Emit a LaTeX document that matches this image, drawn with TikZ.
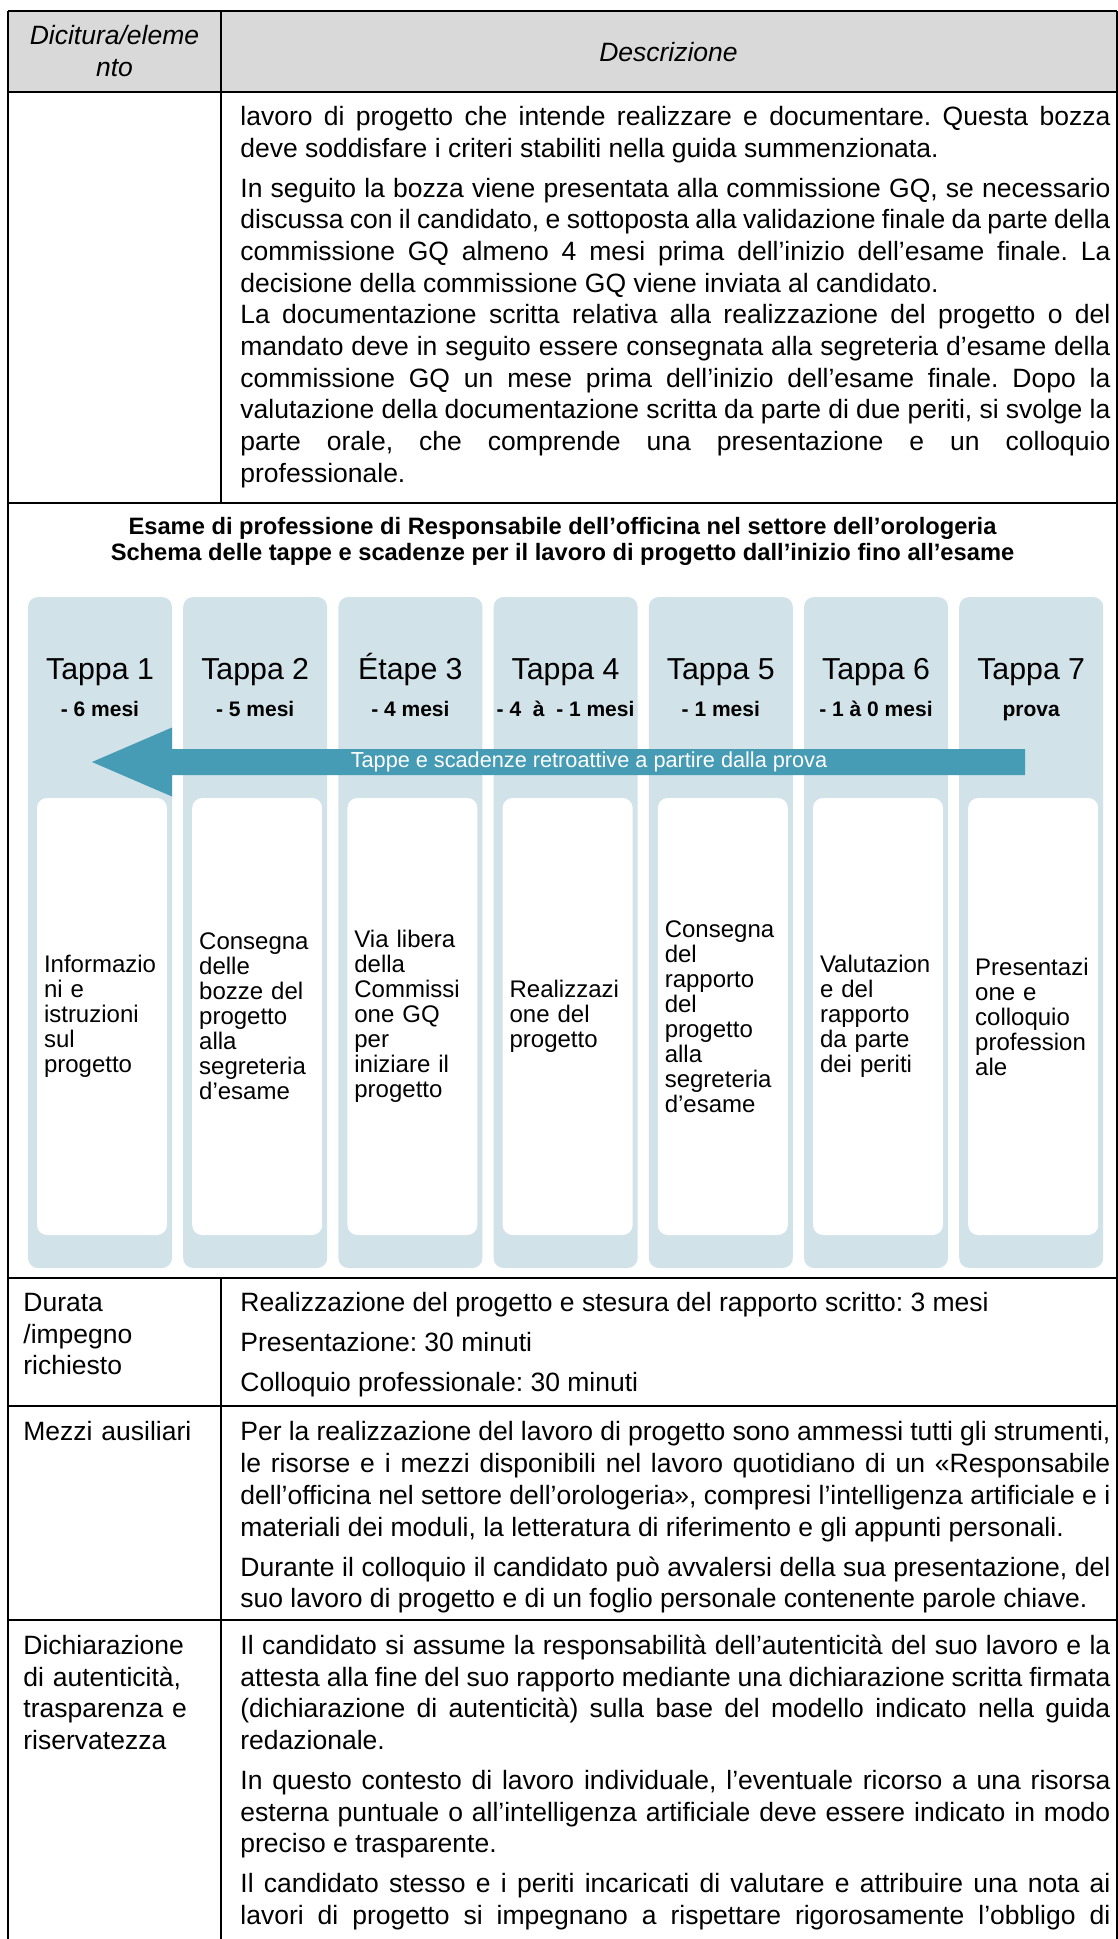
\documentclass[tikz,border=0pt]{standalone}
\usepackage{fontspec}
\setmainfont{Liberation Sans}
\usetikzlibrary{positioning}
\definecolor{headgray}{RGB}{217,217,217}
\definecolor{colblue}{RGB}{209,226,233}
\definecolor{arrowblue}{RGB}{70,155,181}
\setlength{\parindent}{0pt}
\frenchspacing
\newcommand{\bodyfont}{\fontsize{13.25}{15.85}\selectfont}
\newcommand{\stepfont}{\fontsize{12}{12.5}\selectfont}
\newcommand{\tappafont}{\fontsize{15.15}{18}\selectfont}
\newcommand{\mesifont}{\fontsize{10.5}{12.6}\selectfont\bfseries}
\newcommand{\titlefont}{\fontsize{11.85}{13}\selectfont\bfseries}
\newcommand{\arrowfont}{\fontsize{10.85}{13}\selectfont}

\begin{document}
\begin{tikzpicture}[x=0.5pt,y=-0.5pt]
        \tikzstyle{col node}=[fill=colblue,rounded corners=5pt,minimum width=72pt,minimum height=335.5pt,inner sep=0pt,node distance=77.6pt]
        \tikzstyle{box node}=[fill=white,rounded corners=5pt,minimum width=65pt,minimum height=218.5pt,text width=58pt,inner xsep=3.5pt,inner ysep=0pt,align=left,font=\stepfont]
        \tikzstyle{tappa node}=[inner sep=0pt,font=\tappafont,text height=11pt,text depth=3.2pt]
        \tikzstyle{mesi node}=[inner sep=0pt,font=\mesifont,text height=7.5pt,text depth=2pt]
        \tikzstyle{cell node}=[anchor=north west,inner sep=0pt,font=\bodyfont,text width=95pt,align=left]
        \tikzstyle{desc node}=[anchor=north west,inner sep=0pt,font=\bodyfont,text width=435pt,align=justify]
        \tikzstyle{table rule}=[line width=1pt]
        \useasboundingbox (0,0) rectangle (1118,1939);

        % table frame
        \fill[headgray] (8,11) rectangle (1116.5,91.5);
        \draw[line width=0.6pt] (8,11) -- (1116.5,11);
        \draw[table rule] (8,11) -- (8,1939);
        \draw[table rule] (1116.5,11) -- (1116.5,1939);
        \draw[table rule] (221,11) -- (221,502.5);
        \draw[table rule] (221,1277.5) -- (221,1939);
        \draw[table rule] (8,91.5) -- (1116.5,91.5);
        \draw[table rule] (8,502.5) -- (1116.5,502.5);
        \draw[table rule] (8,1277.5) -- (1116.5,1277.5);
        \draw[table rule] (8,1406) -- (1116.5,1406);
        \draw[table rule] (8,1620) -- (1116.5,1620);

        \node[font=\bodyfont\itshape,align=center,inner sep=0pt] (hd1) at (114.5,51) {Dicitura/eleme\\nto};
        \node[font=\bodyfont\itshape,inner sep=0pt] (hd2) at (668.5,52) {Descrizione};

        \node[desc node] (d1) at (240,102.8) {\strut lavoro di progetto che intende realizzare e documentare. Questa bozza\linebreak deve soddisfare i criteri stabiliti nella guida summenzionata.\par\vspace{4.15pt}%
In seguito la bozza viene presentata alla commissione GQ, se necessario\linebreak discussa con il candidato, e sottoposta alla validazione finale da parte della\linebreak commissione GQ almeno 4 mesi prima dell’inizio dell’esame finale. La\linebreak decisione della commissione GQ viene inviata al candidato.\par
La documentazione scritta relativa alla realizzazione del progetto o del\linebreak mandato deve in seguito essere consegnata alla segreteria d’esame della\linebreak commissione GQ un mese prima dell’inizio dell’esame finale. Dopo la\linebreak valutazione della documentazione scritta da parte di due periti, si svolge la\linebreak parte orale, che comprende una presentazione e un colloquio\linebreak professionale.};

        % schema delle tappe
        \node[font=\titlefont,align=center,inner sep=0pt] (title) at (562.5,541) {Esame di professione di Responsabile dell’officina nel settore dell’orologeria\\Schema delle tappe e scadenze per il lavoro di progetto dall’inizio fino all’esame};

        \node[col node] (c1) at (100,932.5) {};
        \node[col node] (c2) [right of=c1] {};
        \node[col node] (c3) [right of=c2] {};
        \node[col node] (c4) [right of=c3] {};
        \node[col node] (c5) [right of=c4] {};
        \node[col node] (c6) [right of=c5] {};
        \node[col node] (c7) [right of=c6] {};

        \node[tappa node] (t1) [below=30pt of c1.north] {Tappa 1};
        \node[tappa node] (t2) [below=30pt of c2.north] {Tappa 2};
        \node[tappa node] (t3) [below=30pt of c3.north] {Étape 3};
        \node[tappa node] (t4) [below=30pt of c4.north] {Tappa 4};
        \node[tappa node] (t5) [below=30pt of c5.north] {Tappa 5};
        \node[tappa node] (t6) [below=30pt of c6.north] {Tappa 6};
        \node[tappa node] (t7) [below=30pt of c7.north] {Tappa 7};

        \node[mesi node] (m1) [below=7.5pt of t1] {- 6 mesi};
        \node[mesi node] (m2) [below=7.5pt of t2] {- 5 mesi};
        \node[mesi node] (m3) [below=7.5pt of t3] {- 4 mesi};
        \node[mesi node] (m4) [below=7.5pt of t4] {- 4~~à~~- 1 mesi};
        \node[mesi node] (m5) [below=7.5pt of t5] {- 1 mesi};
        \node[mesi node] (m6) [below=7.5pt of t6] {- 1 à 0 mesi};
        \node[mesi node] (m7) [below=7.5pt of t7] {prova};

        \node[box node] (b1) [below=100.5pt of c1.north,xshift=1pt] {Informazio\\ni e\\istruzioni\\sul\\progetto};
        \node[box node] (b2) [below=100.5pt of c2.north,xshift=1pt] {Consegna\\delle\\bozze del\\progetto\\alla\\segreteria\\d’esame};
        \node[box node] (b3) [below=100.5pt of c3.north,xshift=1pt] {Via libera\\della\\Commissi\\one GQ\\per\\iniziare il\\progetto};
        \node[box node] (b4) [below=100.5pt of c4.north,xshift=1pt] {Realizzazi\\one del\\progetto};
        \node[box node] (b5) [below=100.5pt of c5.north,xshift=1pt] {Consegna\\del\\rapporto\\del\\progetto\\alla\\segreteria\\d’esame};
        \node[box node] (b6) [below=100.5pt of c6.north,xshift=1pt] {Valutazion\\e del\\rapporto\\da parte\\dei periti};
        \node[box node] (b7) [below=100.5pt of c7.north,xshift=1pt] {Presentazi\\one e\\colloquio\\profession\\ale};

        % freccia all'indietro
        \fill[arrowblue] (1025,749) -- (172,749) -- (172,727.5) -- (92,762) -- (172,796.5) -- (172,775) -- (1025,775) -- cycle;
        \node[font=\arrowfont,text=white,inner sep=0pt] (arrtext) at (589,762) {Tappe e scadenze retroattive a partire dalla prova};

        % righe finali
        \node[cell node] (l1) at (23,1288.8) {\strut Durata\\/impegno\\richiesto};
        \node[desc node] (d2) at (240,1288.8) {\strut Realizzazione del progetto e stesura del rapporto scritto: 3 mesi\par\vspace{4.15pt}%
Presentazione: 30 minuti\par\vspace{4.15pt}%
Colloquio professionale: 30 minuti};

        \node[cell node] (l2) at (23,1418.3) {\strut Mezzi ausiliari};
        \node[desc node] (d3) at (240,1418.3) {\strut Per la realizzazione del lavoro di progetto sono ammessi tutti gli strumenti,\linebreak le risorse e i mezzi disponibili nel lavoro quotidiano di un «Responsabile\linebreak dell’officina nel settore dell’orologeria», compresi l’intelligenza artificiale e i\linebreak materiali dei moduli, la letteratura di riferimento e gli appunti personali.\par\vspace{4.15pt}%
Durante il colloquio il candidato può avvalersi della sua presentazione, del\linebreak suo lavoro di progetto e di un foglio personale contenente parole chiave.};

        \node[cell node] (l3) at (23,1631.8) {\strut Dichiarazione\\di autenticità,\\trasparenza e\\riservatezza};
        \node[desc node] (d4) at (240,1631.8) {\strut Il candidato si assume la responsabilità dell’autenticità del suo lavoro e la\linebreak attesta alla fine del suo rapporto mediante una dichiarazione scritta firmata\linebreak (dichiarazione di autenticità) sulla base del modello indicato nella guida\linebreak redazionale.\par\vspace{4.15pt}%
In questo contesto di lavoro individuale, l'eventuale ricorso a una risorsa\linebreak esterna puntuale o all’intelligenza artificiale deve essere indicato in modo\linebreak preciso e trasparente.\par\vspace{4.15pt}%
Il candidato stesso e i periti incaricati di valutare e attribuire una nota ai\linebreak lavori di progetto si impegnano a rispettare rigorosamente l’obbligo di\linebreak};
\end{tikzpicture}
\end{document}
